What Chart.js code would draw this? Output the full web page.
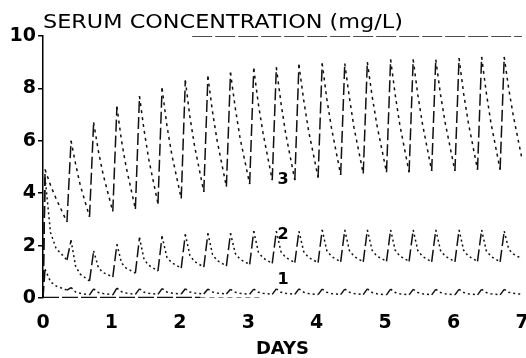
<!DOCTYPE html>
<html>
<head>
<meta charset="utf-8">
<script src="https://cdn.jsdelivr.net/npm/chart.js@4.4.1/dist/chart.umd.min.js"></script>
<style>
  html, body { margin: 0; padding: 0; background: #fff; }
  #wrap { width: 526px; height: 358px; }
</style>
</head>
<body>
<div id="wrap"><canvas id="serumChart" width="526" height="358"></canvas></div>
<script>
// dose cycles (days): time of each peak and of the trough that follows it
const peakTimes = [0.03, 0.41, 0.74, 1.08, 1.41, 1.74, 2.08, 2.41, 2.74, 3.08, 3.41, 3.74, 4.08, 4.41, 4.74, 5.08, 5.41, 5.74, 6.08, 6.41, 6.74];
const troughTimes = [0.35, 0.68, 1.02, 1.35, 1.68, 2.02, 2.35, 2.68, 3.02, 3.35, 3.68, 4.02, 4.35, 4.68, 5.02, 5.35, 5.68, 6.02, 6.35, 6.68, 7.0];

// curve 3 (mg/L) - peak, 1/4 way down, half way down, trough
const peaks3 = [4.9, 6.0, 6.7, 7.3, 7.7, 8.0, 8.3, 8.45, 8.6, 8.75, 8.8, 8.9, 8.95, 8.95, 9.0, 9.1, 9.1, 9.1, 9.15, 9.2, 9.2];
const early3 = [4.3, 5.1, 5.6, 6.0, 6.4, 6.6, 6.9, 7.1, 7.25, 7.4, 7.45, 7.55, 7.6, 7.65, 7.7, 7.75, 7.75, 7.75, 7.8, 7.85, 8.0];
const mid3 = [3.8, 4.3, 4.7, 5.0, 5.3, 5.5, 5.8, 6.0, 6.1, 6.3, 6.3, 6.4, 6.5, 6.5, 6.6, 6.6, 6.65, 6.65, 6.7, 6.7, 7.0];
const troughs3 = [2.9, 3.1, 3.3, 3.4, 3.6, 3.8, 4.05, 4.25, 4.35, 4.5, 4.5, 4.6, 4.7, 4.75, 4.8, 4.8, 4.85, 4.85, 4.9, 4.9, 5.3];

// curve 2
const peaks2 = [4.6, 2.2, 1.8, 2.05, 2.3, 2.35, 2.43, 2.47, 2.47, 2.55, 2.55, 2.55, 2.6, 2.6, 2.6, 2.6, 2.6, 2.6, 2.6, 2.6, 2.55];
const early2 = [2.5, 1.2, 1.15, 1.34, 1.47, 1.56, 1.62, 1.66, 1.7, 1.75, 1.77, 1.77, 1.81, 1.81, 1.82, 1.82, 1.81, 1.81, 1.82, 1.81, 1.87];
const mid2 = [1.9, 0.91, 0.97, 1.14, 1.25, 1.35, 1.39, 1.43, 1.48, 1.53, 1.55, 1.55, 1.59, 1.59, 1.6, 1.6, 1.59, 1.59, 1.6, 1.59, 1.68];
const troughs2 = [1.45, 0.65, 0.8, 0.95, 1.03, 1.14, 1.18, 1.22, 1.28, 1.32, 1.35, 1.35, 1.38, 1.38, 1.4, 1.4, 1.38, 1.38, 1.4, 1.38, 1.5];

// curve 1
const peaks1 = [1.1, 0.4, 0.35, 0.38, 0.35, 0.36, 0.35, 0.34, 0.33, 0.34, 0.35, 0.35, 0.34, 0.34, 0.35, 0.34, 0.33, 0.33, 0.33, 0.33, 0.33];
const early1 = [0.62, 0.23, 0.21, 0.24, 0.22, 0.23, 0.23, 0.23, 0.22, 0.22, 0.22, 0.22, 0.22, 0.22, 0.21, 0.21, 0.21, 0.21, 0.21, 0.21, 0.22];
const mid1 = [0.46, 0.18, 0.17, 0.19, 0.18, 0.19, 0.19, 0.19, 0.18, 0.18, 0.18, 0.17, 0.17, 0.17, 0.16, 0.16, 0.16, 0.16, 0.16, 0.16, 0.18];
const troughs1 = [0.3, 0.12, 0.12, 0.14, 0.14, 0.15, 0.15, 0.15, 0.14, 0.14, 0.14, 0.13, 0.13, 0.13, 0.12, 0.12, 0.12, 0.12, 0.12, 0.12, 0.14];

// frame pieces seen in the scan
const topLine = [[2.18, 10], [7, 10]];
const baseBold = [[0, 0], [2.3, 0]];
const baseThin = [[2.3, 0], [3.2, 0]];

const curveLabels = [["3", 3.51, 4.5], ["2", 3.51, 2.4], ["1", 3.51, 0.69]];

const xTicks = [0, 1, 2, 3, 4, 5, 6, 7];
const yTicks = [0, 2, 4, 6, 8, 10];

function curvePoints(peaks, early, mid, troughs) {
  const pts = [{ x: 0, y: 0 }];
  peakTimes.forEach((p, i) => {
    const t = troughTimes[i];
    pts.push({ x: p, y: peaks[i] });
    pts.push({ x: p + (t - p) * 0.25, y: early[i] });
    pts.push({ x: p + (t - p) * 0.5, y: mid[i] });
    pts.push({ x: t, y: troughs[i] });
  });
  return pts;
}

const toPts = (arr) => arr.map((p) => ({ x: p[0], y: p[1] }));

const ink = "#111";

function curveSet(data, dash) {
  return {
    data: data,
    borderColor: ink,
    borderWidth: 1.5,
    pointRadius: 0,
    tension: 0,
    segment: {
      // the steep rises look nearly solid in the scan, the decays dotted
      borderDash: (ctx) => (ctx.p1.parsed.y > ctx.p0.parsed.y ? [12, 4] : dash),
    },
  };
}

const textPlugin = {
  id: "textPlugin",
  afterDraw(chart) {
    const ctx = chart.ctx;
    const xs = chart.scales.x;
    const ys = chart.scales.y;
    ctx.save();
    ctx.fillStyle = "#000";

    // chart heading, drawn a little stretched like the original lettering
    const title = "SERUM CONCENTRATION (mg/L)";
    ctx.font = '19px "DejaVu Sans"';
    ctx.textBaseline = "alphabetic";
    ctx.textAlign = "left";
    const w = ctx.measureText(title).width;
    ctx.translate(43, 28);
    ctx.scale(360 / w, 1);
    ctx.fillText(title, 0, 0);
    ctx.restore();

    ctx.save();
    ctx.fillStyle = "#000";
    ctx.font = 'bold 16px "DejaVu Sans"';
    ctx.textAlign = "center";
    ctx.textBaseline = "middle";
    curveLabels.forEach((l) => {
      ctx.fillText(l[0], xs.getPixelForValue(l[1]), ys.getPixelForValue(l[2]));
    });
    ctx.restore();
  },
};

new Chart(document.getElementById("serumChart").getContext("2d"), {
  type: "line",
  data: {
    datasets: [
      curveSet(curvePoints(peaks3, early3, mid3, troughs3), [3, 4]),
      curveSet(curvePoints(peaks2, early2, mid2, troughs2), [2, 3]),
      curveSet(curvePoints(peaks1, early1, mid1, troughs1), [2, 3]),
      {
        data: toPts(topLine),
        borderColor: ink,
        borderWidth: 1.5,
        borderDash: [20, 3],
        pointRadius: 0,
      },
      {
        data: toPts(baseBold),
        borderColor: ink,
        borderWidth: 2.5,
        borderDash: [16, 3],
        pointRadius: 0,
      },
      {
        data: toPts(baseThin),
        borderColor: ink,
        borderWidth: 1.2,
        borderDash: [5, 4],
        pointRadius: 0,
      },
    ],
  },
  options: {
    responsive: false,
    animation: false,
    layout: { padding: { top: 36, right: 4, left: 0, bottom: 0 } },
    plugins: {
      legend: { display: false },
      tooltip: { enabled: false },
    },
    scales: {
      x: {
        type: "linear",
        min: 0,
        max: 7,
        afterFit: (scale) => {
          scale.height = 60;
          // let the "7" hang off the right edge like in the scan
          scale.paddingLeft = 0;
          scale.paddingRight = 0;
        },
        afterBuildTicks: (scale) => {
          scale.ticks = xTicks.map((v) => ({ value: v }));
        },
        ticks: {
          color: "#000",
          padding: 14,
          maxRotation: 0,
          font: { family: "DejaVu Sans", size: 19, weight: "bold" },
        },
        grid: { display: false, drawTicks: false },
        border: { display: false },
        title: {
          display: true,
          text: "DAYS",
          color: "#000",
          padding: { top: 0, bottom: 0 },
          font: { family: "DejaVu Sans", size: 18, weight: "bold", lineHeight: 1 },
        },
      },
      y: {
        min: 0,
        max: 10,
        afterFit: (scale) => {
          scale.width = 43;
        },
        afterBuildTicks: (scale) => {
          scale.ticks = yTicks.map((v) => ({ value: v }));
        },
        ticks: {
          color: "#000",
          padding: 2,
          font: { family: "DejaVu Sans", size: 19, weight: "bold" },
        },
        grid: {
          drawOnChartArea: false,
          drawTicks: true,
          tickLength: 5,
          color: "#000",
          lineWidth: 1.5,
        },
        border: { color: "#000", width: 1.5 },
      },
    },
  },
  plugins: [textPlugin],
});
</script>
</body>
</html>
